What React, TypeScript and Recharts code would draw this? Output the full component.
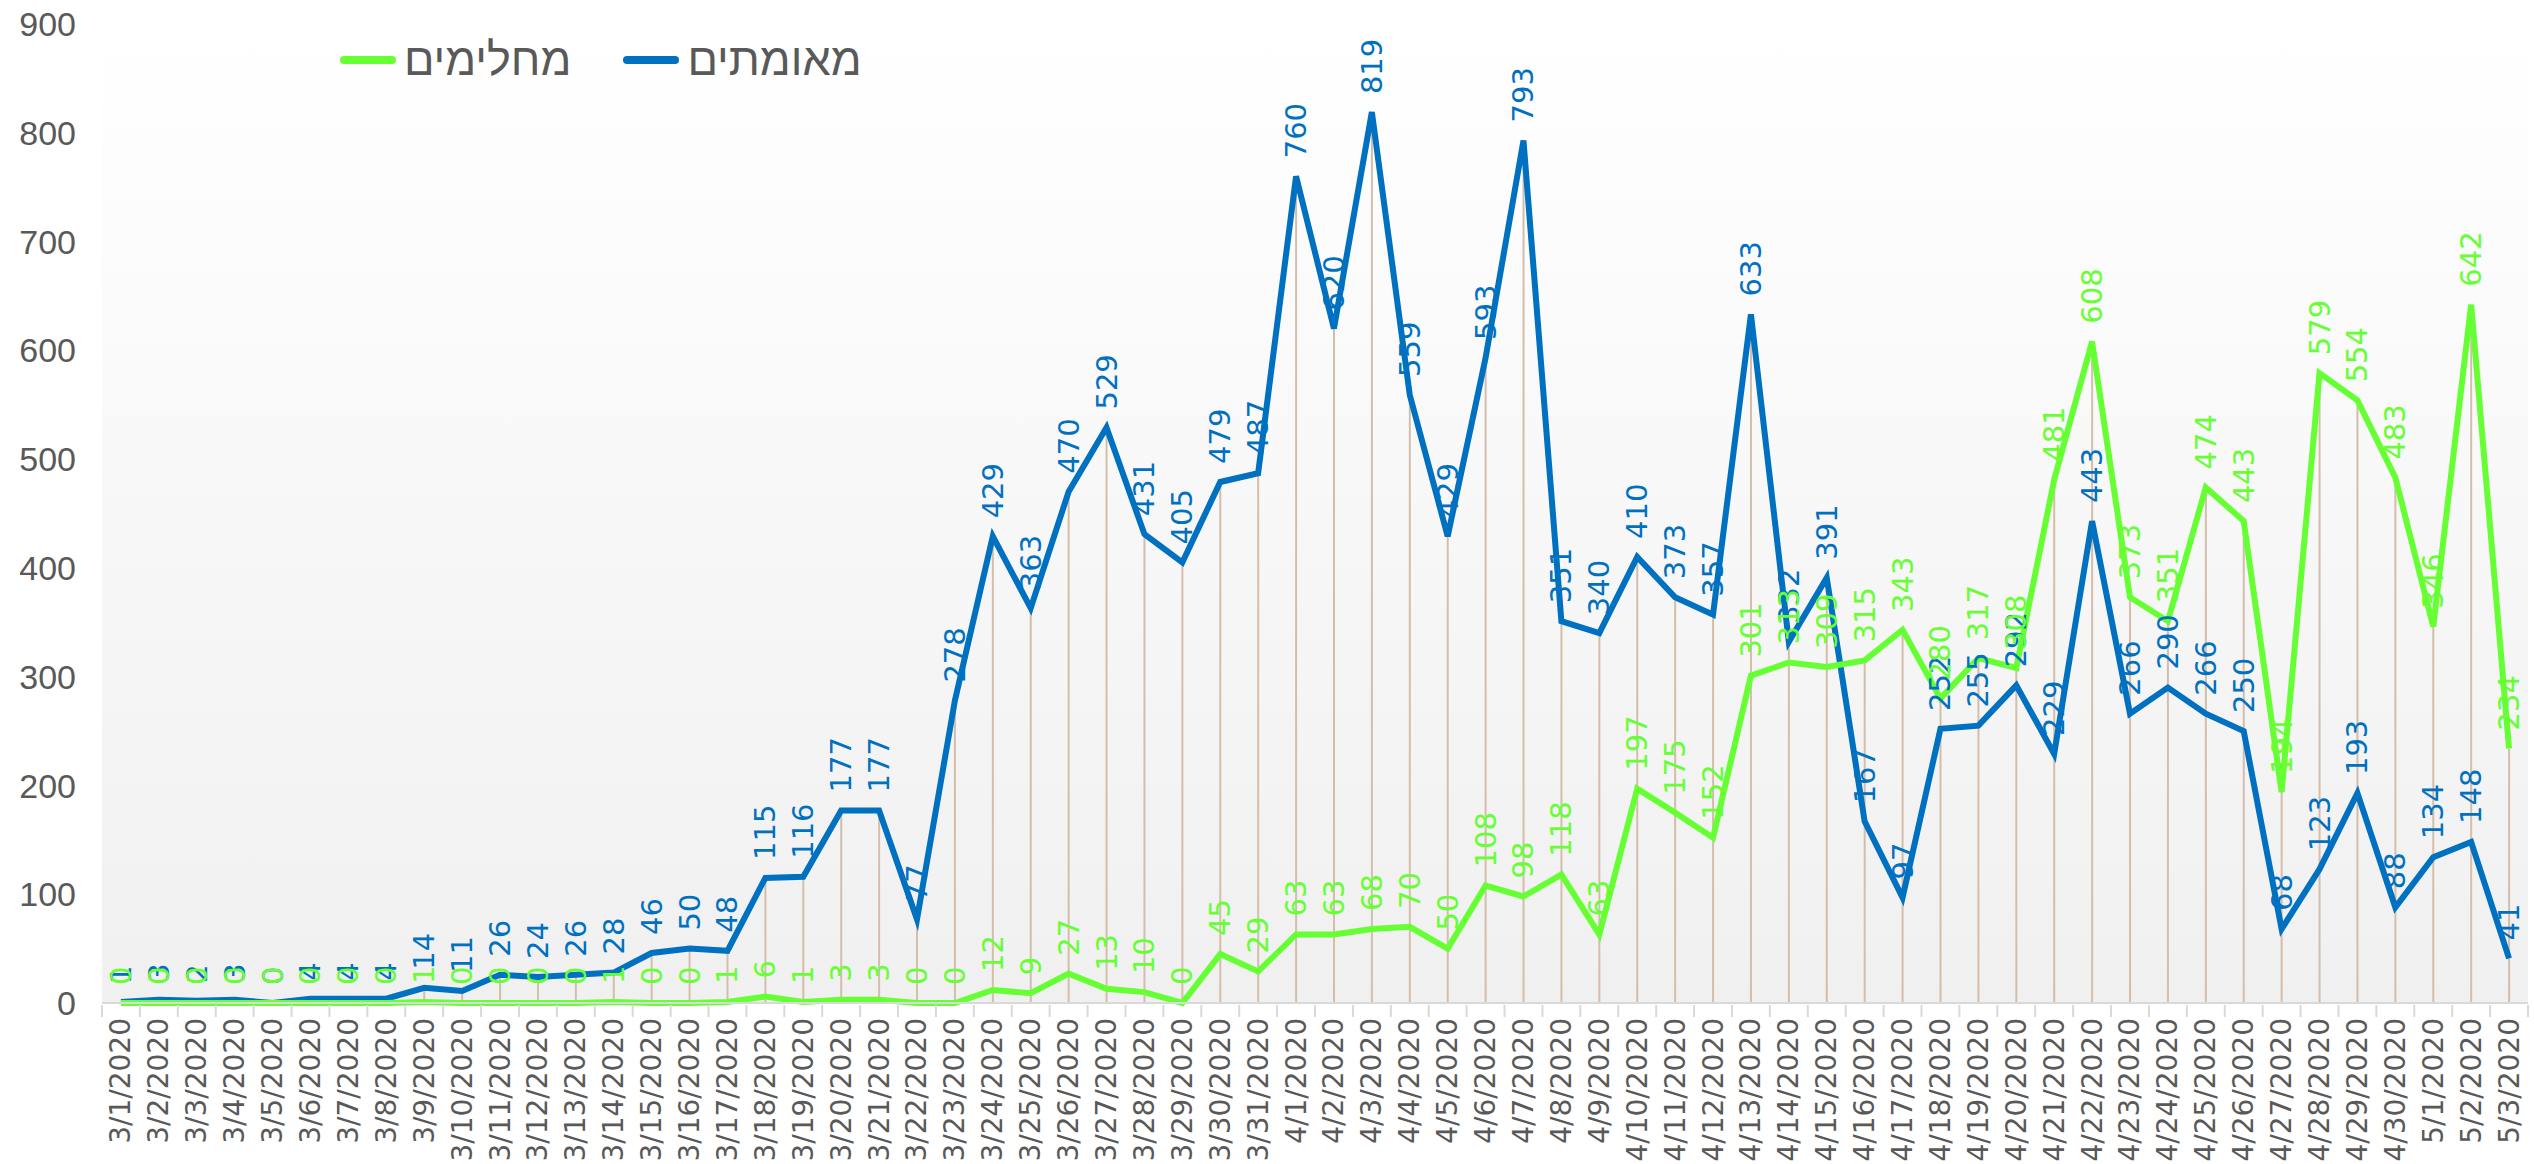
import { ComposedChart, Line, Bar, XAxis, YAxis, CartesianGrid, LabelList } from "recharts";

const dates = [
  "3/1/2020", "3/2/2020", "3/3/2020", "3/4/2020", "3/5/2020", "3/6/2020", "3/7/2020", "3/8/2020",
  "3/9/2020", "3/10/2020", "3/11/2020", "3/12/2020", "3/13/2020", "3/14/2020", "3/15/2020", "3/16/2020",
  "3/17/2020", "3/18/2020", "3/19/2020", "3/20/2020", "3/21/2020", "3/22/2020", "3/23/2020", "3/24/2020",
  "3/25/2020", "3/26/2020", "3/27/2020", "3/28/2020", "3/29/2020", "3/30/2020", "3/31/2020",
  "4/1/2020", "4/2/2020", "4/3/2020", "4/4/2020", "4/5/2020", "4/6/2020", "4/7/2020", "4/8/2020",
  "4/9/2020", "4/10/2020", "4/11/2020", "4/12/2020", "4/13/2020", "4/14/2020", "4/15/2020", "4/16/2020",
  "4/17/2020", "4/18/2020", "4/19/2020", "4/20/2020", "4/21/2020", "4/22/2020", "4/23/2020", "4/24/2020",
  "4/25/2020", "4/26/2020", "4/27/2020", "4/28/2020", "4/29/2020", "4/30/2020",
  "5/1/2020", "5/2/2020", "5/3/2020",
];

// מאומתים
const confirmed = [
  1, 3, 2, 3, 0, 4, 4, 4, 14, 11, 26, 24, 26, 28, 46, 50, 48, 115, 116, 177, 177, 77, 278, 429,
  363, 470, 529, 431, 405, 479, 487,
  760, 620, 819, 559, 429, 593, 793, 351, 340, 410, 373, 357, 633, 332, 391, 167, 97, 252, 255,
  292, 229, 443, 266, 290, 266, 250, 68, 123, 193, 88,
  134, 148, 41,
];

// מחלימים
const recovered = [
  0, 0, 0, 0, 0, 0, 0, 0, 1, 0, 0, 0, 0, 1, 0, 0, 1, 6, 1, 3, 3, 0, 0, 12,
  9, 27, 13, 10, 0, 45, 29,
  63, 63, 68, 70, 50, 108, 98, 118, 63, 197, 175, 152, 301, 313, 309, 315, 343, 280, 317,
  308, 481, 608, 373, 351, 474, 443, 194, 579, 554, 483,
  346, 642, 234,
];

const yTicks = [0, 100, 200, 300, 400, 500, 600, 700, 800, 900];

const data = dates.map((d, i) => ({
  date: d,
  confirmed: confirmed[i],
  recovered: recovered[i],
  drop: Math.max(confirmed[i], recovered[i]),
}));

const W = 2534;
const H = 1164;
const LEFT = 102;
const RIGHT_MARGIN = 6;
const BLUE = "#0070C0";
const GREEN = "#66FF33";
const GREY = "#595959";
const half = (W - LEFT - RIGHT_MARGIN) / dates.length / 2;

const XTick = (props: any) => {
  const { x, y, payload, index } = props;
  return (
    <g transform={`translate(${x},${y})`}>
      <line x1={-half} y1={0} x2={-half} y2={12} stroke="#D9D9D9" strokeWidth={2} />
      {index === dates.length - 1 && (
        <line x1={half} y1={0} x2={half} y2={12} stroke="#D9D9D9" strokeWidth={2} />
      )}
      <text
        transform="rotate(-90)"
        x={-13}
        y={0}
        textAnchor="end"
        dominantBaseline="central"
        fill={GREY}
        fontSize={28}
        fontFamily="DejaVu Sans"
      >
        {payload.value}
      </text>
    </g>
  );
};

const makeLabel = (color: string) => (p: any) => {
  const x = p.x;
  const y = p.y - 18;
  return (
    <text
      x={x}
      y={y}
      transform={`rotate(-90 ${x} ${y})`}
      textAnchor="start"
      dominantBaseline="central"
      fill={color}
      fontSize={29}
      fontFamily="DejaVu Sans"
    >
      {p.value}
    </text>
  );
};

const LegendItem = ({ color, label }: { color: string; label: string }) => (
  <div style={{ display: "flex", alignItems: "center", marginRight: 52 }}>
    <div style={{ width: 56, height: 8, borderRadius: 4, background: color, marginRight: 8 }} />
    <span style={{ fontSize: 45, color: GREY, fontFamily: "Liberation Sans Narrow, Liberation Sans, sans-serif" }}>
      {label}
    </span>
  </div>
);

export default function App() {
  return (
    <div style={{ position: "absolute", left: 0, top: 0, width: W, height: H, overflow: "hidden", background: "#fff" }}>
      <ComposedChart
        width={W}
        height={H}
        data={data}
        margin={{ top: 24, right: RIGHT_MARGIN, bottom: 0, left: 0 }}
        barCategoryGap={0}
      >
        <defs>
          <linearGradient id="plotBg" x1="0" y1="0" x2="0" y2="1">
            <stop offset="0%" stopColor="#FFFFFF" />
            <stop offset="100%" stopColor="#F0F0F0" />
          </linearGradient>
        </defs>
        <CartesianGrid horizontal={false} vertical={false} fill="url(#plotBg)" />
        <XAxis
          dataKey="date"
          interval={0}
          height={161}
          tickSize={0}
          tickLine={false}
          axisLine={{ stroke: "#D9D9D9", strokeWidth: 2 }}
          tick={<XTick />}
        />
        <YAxis
          width={LEFT}
          domain={[0, 900]}
          ticks={yTicks}
          axisLine={false}
          tickLine={false}
          tickMargin={20}
          tick={{ fill: GREY, fontSize: 34, fontFamily: "Liberation Sans Narrow, Liberation Sans, sans-serif" }}
        />
        <Bar dataKey="drop" barSize={2} fill="#D4BEAA" isAnimationActive={false} />
        <Line
          dataKey="confirmed"
          type="linear"
          stroke={BLUE}
          strokeWidth={6}
          dot={false}
          activeDot={false}
          isAnimationActive={false}
        >
          <LabelList dataKey="confirmed" content={makeLabel(BLUE)} />
        </Line>
        <Line
          dataKey="recovered"
          type="linear"
          stroke={GREEN}
          strokeWidth={6}
          dot={false}
          activeDot={false}
          isAnimationActive={false}
        >
          <LabelList dataKey="recovered" content={makeLabel(GREEN)} />
        </Line>
      </ComposedChart>
      <div style={{ position: "absolute", left: 340, top: 34, display: "flex", direction: "ltr" }}>
        <LegendItem color={GREEN} label="מחלימים" />
        <LegendItem color={BLUE} label="מאומתים" />
      </div>
    </div>
  );
}
